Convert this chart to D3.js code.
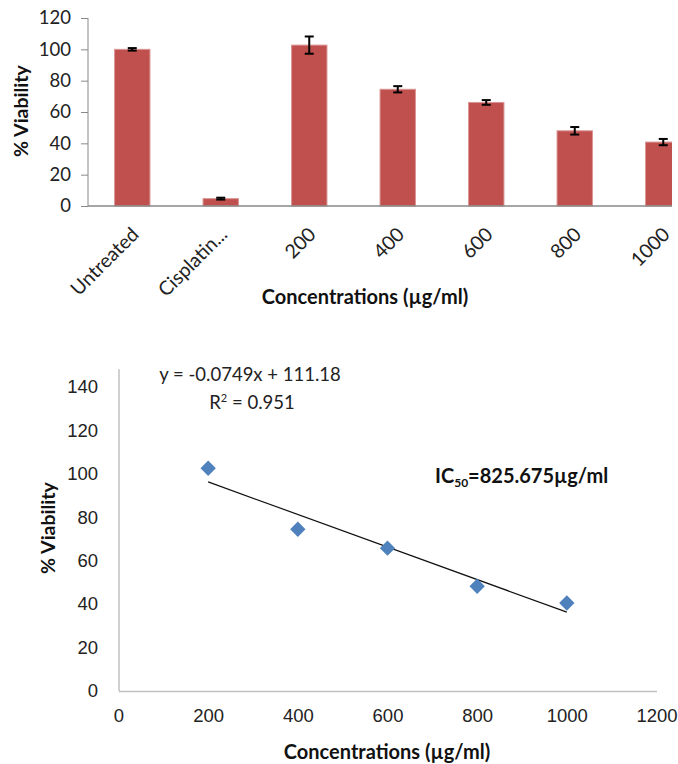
<!DOCTYPE html>
<html><head><meta charset="utf-8">
<script src="https://cdn.jsdelivr.net/npm/d3@7"></script>
<style>
body{margin:0;background:#fff;}
svg{display:block;font-family:Lato,"Open Sans",sans-serif;}
</style></head><body>
<svg id="c" width="678" height="764"></svg>
<script>
// ---- Data ----
const barCategories = ["Untreated","Cisplatin...","200","400","600","800","1000"];
const barValues = [100, 4.7, 102.7, 74.5, 66.1, 48.0, 40.8];
const barErrors = [0.8, 0.6, 5.5, 2.0, 1.5, 2.4, 2.0];
const barYTicks = [0,20,40,60,80,100,120];

const scatterX = [200, 400, 600, 800, 1000];
const scatterY = [102.5, 74.4, 65.7, 48.2, 40.5];
const trendSlope = -0.0749, trendIntercept = 111.18;
const scatterXTicks = [0,200,400,600,800,1000,1200];
const scatterYTicks = [0,20,40,60,80,100,120,140];

const svg = d3.select("#c");
const axisGray = "#898989";

// ---- Top bar chart ----
const yT = d3.scaleLinear().domain([0,120]).range([206,18]);
const xT = d3.scaleBand().domain(barCategories).range([88, 707.5]).paddingInner(0.6).paddingOuter(0.3);

svg.append("defs").append("clipPath").attr("id","clipTop")
  .append("rect").attr("x",0).attr("y",0).attr("width",672).attr("height",300);

const gTop = svg.append("g").attr("clip-path","url(#clipTop)");

gTop.selectAll("rect.bar").data(barValues).join("rect")
  .attr("class","bar")
  .attr("x",(d,i)=>xT(barCategories[i]))
  .attr("width",xT.bandwidth())
  .attr("y",d=>yT(d))
  .attr("height",d=>yT(0)-yT(d))
  .attr("fill","#C0504D").attr("stroke","#D99694").attr("stroke-width",1);

// error bars
const eb = gTop.selectAll("g.eb").data(barValues).join("g").attr("class","eb")
  .attr("transform",(d,i)=>`translate(${xT(barCategories[i])+xT.bandwidth()/2},0)`);
eb.append("line").attr("x1",0).attr("x2",0)
  .attr("y1",(d,i)=>yT(d+barErrors[i])).attr("y2",(d,i)=>yT(d-barErrors[i]))
  .attr("stroke","#000").attr("stroke-width",2);
eb.append("line").attr("x1",-4.5).attr("x2",4.5)
  .attr("y1",(d,i)=>yT(d+barErrors[i])).attr("y2",(d,i)=>yT(d+barErrors[i]))
  .attr("stroke","#000").attr("stroke-width",2);
eb.append("line").attr("x1",-4.5).attr("x2",4.5)
  .attr("y1",(d,i)=>yT(d-barErrors[i])).attr("y2",(d,i)=>yT(d-barErrors[i]))
  .attr("stroke","#000").attr("stroke-width",2);

// y axis
const yAxT = svg.append("g").attr("transform","translate(88,0)")
  .call(d3.axisLeft(yT).tickValues(barYTicks).tickSize(7).tickPadding(10));
yAxT.selectAll("path,line").attr("stroke",axisGray);
yAxT.selectAll("text").attr("font-size",18.5).attr("fill","#222").attr("font-family","Lato");
yAxT.select(".domain").attr("d","M0,206V18");

// x axis line
gTop.append("line").attr("x1",88).attr("x2",672).attr("y1",yT(0)).attr("y2",yT(0))
  .attr("stroke",axisGray).attr("stroke-width",1.5);

// x labels
svg.selectAll("text.xl").data(barCategories).join("text").attr("class","xl")
  .attr("transform",d=>`translate(${xT(d)+xT.bandwidth()/2-2},226) rotate(-45)`)
  .attr("text-anchor","end").attr("dy","0.7em")
  .attr("font-size",19.5).attr("fill","#222").text(d=>d);

svg.append("text").attr("transform","translate(28,111) rotate(-90)")
  .attr("text-anchor","middle").attr("font-weight","bold").attr("font-size",19.5)
  .attr("fill","#111").text("% Viability");
svg.append("text").attr("x",365).attr("y",304).attr("text-anchor","middle")
  .attr("font-weight","bold").attr("font-size",20).attr("fill","#111")
  .text("Concentrations (µg/ml)");

// ---- Bottom scatter chart ----
const xB = d3.scaleLinear().domain([0,1200]).range([118.5,656.5]);
const yB = d3.scaleLinear().domain([0,140]).range([691,386.7]);

const xAxB = svg.append("g").attr("transform","translate(0,691)")
  .call(d3.axisBottom(xB).tickValues(scatterXTicks).tickSize(0).tickPadding(18).tickFormat(d3.format("d")));
xAxB.select(".domain").attr("stroke","#c0c0c0").attr("stroke-width",1.5);
xAxB.selectAll("text").attr("font-size",18.5).attr("fill","#222");

const yAxB = svg.append("g").attr("transform","translate(119,0)")
  .call(d3.axisLeft(yB).tickValues(scatterYTicks).tickSize(0).tickPadding(21));
yAxB.select(".domain").attr("d",`M0,${yB(0)}V${yB(148)}`).attr("stroke","#c0c0c0").attr("stroke-width",1.5);
yAxB.selectAll("text").attr("font-size",18.5).attr("fill","#222");

// trendline
svg.append("line")
  .attr("x1",xB(scatterX[0])).attr("y1",yB(trendSlope*scatterX[0]+trendIntercept))
  .attr("x2",xB(scatterX[scatterX.length-1])).attr("y2",yB(trendSlope*scatterX[scatterX.length-1]+trendIntercept))
  .attr("stroke","#111").attr("stroke-width",1.2);

// diamonds
svg.selectAll("path.pt").data(scatterX).join("path").attr("class","pt")
  .attr("transform",(d,i)=>`translate(${xB(d)},${yB(scatterY[i])})`)
  .attr("d",d3.symbol(d3.symbolDiamond2,150)())
  .attr("fill","#4F81BD");

svg.append("text").attr("x",250).attr("y",381).attr("text-anchor","middle")
  .attr("font-size",18.5).attr("fill","#222").text("y = -0.0749x + 111.18");
const r2 = svg.append("text").attr("x",252).attr("y",409).attr("text-anchor","middle")
  .attr("font-size",18.5).attr("fill","#222");
r2.append("tspan").text("R");
r2.append("tspan").attr("dy",-7).attr("font-size",11).text("2");
r2.append("tspan").attr("dy",7).text(" = 0.951");

const ic = svg.append("text").attr("x",435).attr("y",483)
  .attr("font-size",20).attr("font-weight","bold").attr("fill","#111");
ic.append("tspan").text("IC");
ic.append("tspan").attr("dy",4).attr("font-size",12).text("50");
ic.append("tspan").attr("dy",-4).text("=825.675µg/ml");

svg.append("text").attr("transform","translate(55,528) rotate(-90)")
  .attr("text-anchor","middle").attr("font-weight","bold").attr("font-size",19.5)
  .attr("fill","#111").text("% Viability");
svg.append("text").attr("x",387).attr("y",759).attr("text-anchor","middle")
  .attr("font-weight","bold").attr("font-size",20).attr("fill","#111")
  .text("Concentrations (µg/ml)");
</script>
</body></html>
